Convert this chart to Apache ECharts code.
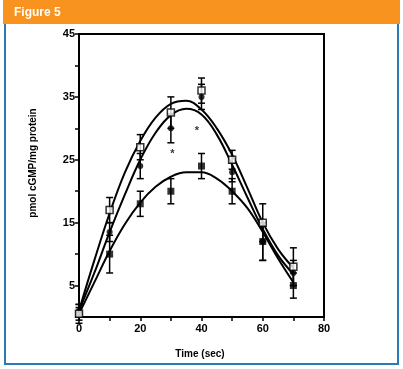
<!DOCTYPE html>
<html><head><meta charset="utf-8">
<script src="https://cdn.jsdelivr.net/npm/echarts@6/dist/echarts.min.js"></script>
<style>html,body{margin:0;padding:0;background:#fff}#c{width:403px;height:369px}</style>
</head><body><div id="c"></div>
<script>
// Time points (sec)
const times = [0, 10, 20, 30, 40, 50, 60, 70];
// Group means
const openSquare = [0.5, 17, 27, 32.5, 36, 25, 15, 8];
const filledCircle = [1, 13.5, 24, 30, 35, 23, 12, 7];
const filledSquare = [0.5, 10, 18, 20, 24, 20, 12, 5];
// Error (SEM)
const openSquareErr = [1.5, 2, 2, 2.5, 2, 1.5, 3, 3];
const filledCircleErr = [1, 1.5, 2, 2.3, 2, 1.5, 3, 2];
const filledSquareErr = [1, 3, 2, 2, 2, 2, 3, 2];
// Fitted curves
const curveTimes = [0, 5, 10, 15, 20, 25, 30, 35, 40, 45, 50, 55, 60, 65, 70];
const curveTop = [1, 9, 16.5, 23, 28, 31.7, 33.9, 34.4, 33, 30, 25.8, 20.5, 15, 10.8, 7.8];
const curveMid = [1, 7, 13.5, 19.5, 25, 29.3, 32.1, 33.1, 32.2, 29, 24.2, 19, 14, 9.8, 6.8];
const curveBot = [0.5, 5.5, 10.5, 14.8, 18.2, 20.7, 22.3, 23, 23, 22, 20, 17.3, 13.5, 9.3, 5.5];
// Significance markers
const starTimes = [30.5, 38.5];
const starValues = [26, 29.6];
// Axis ticks
const yLabels = [5, 15, 25, 35, 45];
const xLabels = [0, 20, 40, 60, 80];

const pair = (xs, ys) => xs.map((x, i) => [x, ys[i]]);
const errData = (ys, es) => times.map((t, i) => [t, ys[i] - es[i], ys[i] + es[i]]);

function errSeries(ys, es) {
  return {
    type: 'custom', z: 4,
    data: errData(ys, es),
    renderItem: function (params, api) {
      const x = api.value(0);
      const lo = api.coord([x, api.value(1)]);
      const hi = api.coord([x, api.value(2)]);
      const w = 3.5;
      const st = { stroke: '#000', lineWidth: 1.5 };
      return { type: 'group', children: [
        { type: 'line', shape: { x1: lo[0], y1: lo[1], x2: hi[0], y2: hi[1] }, style: st },
        { type: 'line', shape: { x1: lo[0] - w, y1: lo[1], x2: lo[0] + w, y2: lo[1] }, style: st },
        { type: 'line', shape: { x1: hi[0] - w, y1: hi[1], x2: hi[0] + w, y2: hi[1] }, style: st }
      ]};
    }
  };
}
function curve(ys) {
  return { type: 'line', smooth: 0.4, showSymbol: false, z: 3,
    data: pair(curveTimes, ys), lineStyle: { color: '#000', width: 2 } };
}

const font = 'Liberation Sans';
const chart = echarts.init(document.getElementById('c'));
chart.setOption({
  animation: false,
  backgroundColor: '#fff',
  grid: { left: 79, right: 79, top: 34, bottom: 52, show: true, borderColor: '#000', borderWidth: 2 },
  xAxis: {
    type: 'value', min: 0, max: 80, interval: 10,
    axisLine: { lineStyle: { color: '#000', width: 2 } },
    axisTick: { length: 4, lineStyle: { color: '#000', width: 1.5 } },
    splitLine: { show: false },
    axisLabel: { color: '#000', fontFamily: font, fontWeight: 'bold', fontSize: 11, margin: 6,
      formatter: v => xLabels.includes(v) ? String(v) : '' }
  },
  yAxis: {
    type: 'value', min: 0, max: 45, interval: 5,
    axisLine: { show: true, lineStyle: { color: '#000', width: 2 } },
    axisTick: { show: true, length: 4, lineStyle: { color: '#000', width: 1.5 } },
    splitLine: { show: false },
    axisLabel: { color: '#000', fontFamily: font, fontWeight: 'bold', fontSize: 11, margin: 4,
      formatter: v => yLabels.includes(v) ? String(v) : '' }
  },
  graphic: [
    { type: 'rect', shape: { x: 3, y: 0, width: 397, height: 24 }, style: { fill: '#f7931e' } },
    { type: 'text', x: 14, y: 13, style: { text: 'Figure 5', fill: '#fff', font: 'bold 12px "Liberation Sans"', textVerticalAlign: 'middle' } },
    { type: 'rect', shape: { x: 4, y: 24, width: 2, height: 341 }, style: { fill: '#2a7ab5' } },
    { type: 'rect', shape: { x: 397, y: 24, width: 2, height: 341 }, style: { fill: '#2a7ab5' } },
    { type: 'rect', shape: { x: 4, y: 363, width: 395, height: 2 }, style: { fill: '#2a7ab5' } },
    { type: 'text', x: 33, y: 163, rotation: Math.PI / 2,
      style: { text: 'pmol cGMP/mg protein', fill: '#000', font: 'bold 10px "Liberation Sans"', textAlign: 'center', textVerticalAlign: 'middle' } },
    { type: 'text', x: 200, y: 354,
      style: { text: 'Time (sec)', fill: '#000', font: 'bold 10px "Liberation Sans"', textAlign: 'center', textVerticalAlign: 'middle' } }
  ],
  series: [
    curve(curveTop), curve(curveMid), curve(curveBot),
    errSeries(openSquare, openSquareErr),
    errSeries(filledCircle, filledCircleErr),
    errSeries(filledSquare, filledSquareErr),
    { type: 'scatter', z: 5, symbol: 'rect', symbolSize: 7, data: pair(times, filledSquare),
      itemStyle: { color: '#000' } },
    { type: 'scatter', z: 6, symbol: 'circle', symbolSize: 6, data: pair(times, filledCircle),
      itemStyle: { color: '#000' } },
    { type: 'scatter', z: 7, symbol: 'rect', symbolSize: 7, data: pair(times, openSquare),
      itemStyle: { color: '#fff', borderColor: '#000', borderWidth: 1.5 } },
    { type: 'scatter', z: 7, symbolSize: 0, data: pair(starTimes, starValues),
      label: { show: true, position: 'inside', formatter: '*', color: '#000', fontFamily: font, fontSize: 11, fontWeight: 'bold' } }
  ]
});
</script></body></html>
